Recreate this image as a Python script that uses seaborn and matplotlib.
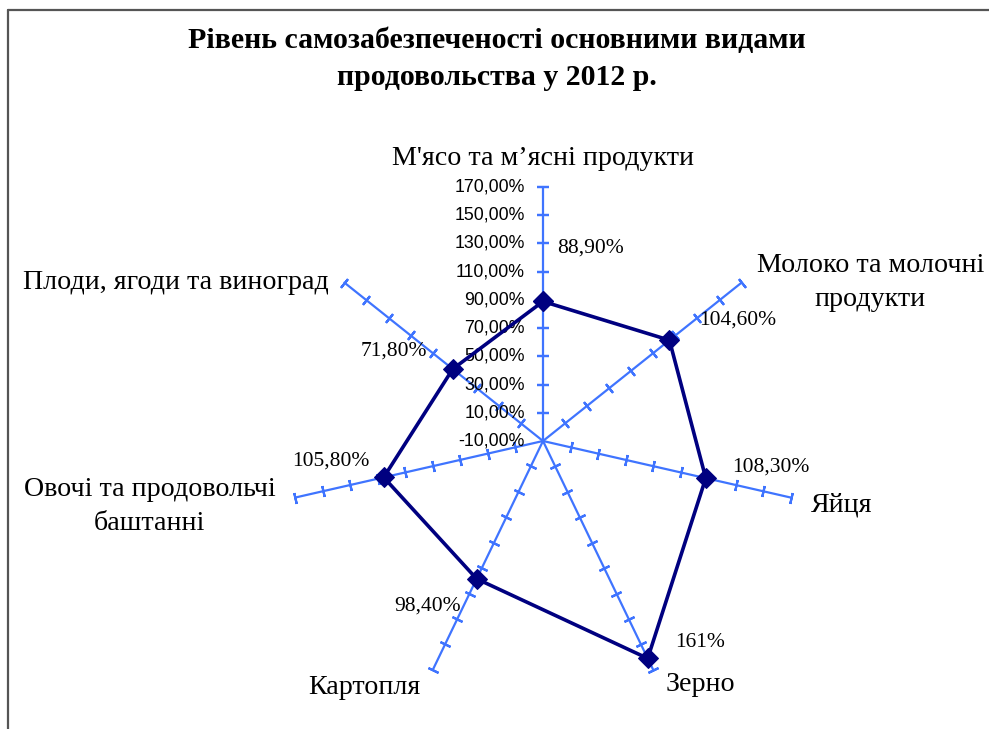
import numpy as np
import matplotlib
matplotlib.use('Agg')
import matplotlib.pyplot as plt
import seaborn as sns
from matplotlib.lines import Line2D

categories = ["М'ясо та м’ясні продукти", "Молоко та молочні\nпродукти", "Яйця", "Зерно",
              "Картопля", "Овочі та продовольчі\nбаштанні", "Плоди, ягоди та виноград"]
values = [88.9, 104.6, 108.3, 161.0, 98.4, 105.8, 71.8]
value_labels = ["88,90%", "104,60%", "108,30%", "161%", "98,40%", "105,80%", "71,80%"]
radial_ticks = [-10, 10, 30, 50, 70, 90, 110, 130, 150, 170]
radial_tick_labels = ["-10,00%", "10,00%", "30,00%", "50,00%", "70,00%", "90,00%",
                      "110,00%", "130,00%", "150,00%", "170,00%"]
title = "Рівень самозабезпеченості основними видами\nпродовольства у 2012 р."

SPOKE = '#3f74ff'
LINE = '#000080'
serif = ['Liberation Serif', 'DejaVu Serif']
sans = ['Liberation Sans', 'DejaVu Sans']

sns.set_theme(style='white')
plt.rcParams['font.family'] = serif
plt.rcParams['text.color'] = 'black'

fig = plt.figure(figsize=(9.89, 7.29), dpi=100)
W, H = 989, 729
cx, cy, R = 543, 441, 254
ax = fig.add_axes([(cx - R) / W, (H - cy - R) / H, 2 * R / W, 2 * R / H], projection='polar')
ax.set_theta_zero_location('N')
ax.set_theta_direction(-1)
ax.set_ylim(radial_ticks[0], radial_ticks[-1])
ax.set_axis_off()

n = len(categories)
angles = np.arange(n) * 2 * np.pi / n

# spokes with perpendicular tick marks
for th in angles:
    ax.plot([th, th], [radial_ticks[0], radial_ticks[-1]], color=SPOKE, lw=1.6, clip_on=False, zorder=1)
    deg = np.degrees(th)
    ax.plot([th] * (len(radial_ticks) - 1), radial_ticks[1:], ls='none',
            marker=(2, 2, 90 - deg), ms=8, mew=1.6, color=SPOKE, clip_on=False, zorder=1)

# tick labels on the top spoke
for r, lab in zip(radial_ticks, radial_tick_labels):
    ax.annotate(lab, xy=(0, r), xytext=(-18, 0), textcoords='offset pixels',
                ha='right', va='center', fontsize=12.8, family=sans, color='black')

# data polygon
th_closed = np.append(angles, 2 * np.pi)
v_closed = np.append(values, values[0])
sns.lineplot(x=th_closed, y=v_closed, ax=ax, color=LINE, lw=2.6, sort=False,
             marker='D', markersize=10, markeredgecolor=LINE, zorder=3, clip_on=False)

# data labels
label_offsets = [(47, 53), (68, 20), (65, 11), (52, 16), (-49, -27), (-53, 16), (-59, 18)]
for th, v, lab, off in zip(angles, values, value_labels, label_offsets):
    ax.annotate(lab, xy=(th, v), xytext=off, textcoords='offset pixels',
                ha='center', va='center', fontsize=15.5, color='black')

# category labels at spoke ends
cat_offsets = [(0, 29, 'center'), (15, 0, 'left'), (20, -7, 'left'), (12, -15, 'left'),
               (-12, -18, 'right'), (-20, -9, 'right'), (-16, 0, 'right')]
for th, cat, (dx, dy, ha) in zip(angles, categories, cat_offsets):
    ax.annotate(cat, xy=(th, radial_ticks[-1]), xytext=(dx, dy), textcoords='offset pixels',
                ha=ha, va='center', fontsize=20.2, color='black', multialignment='center',
                linespacing=1.5)

fig.text(497 / W, 1 - 59 / H, title, ha='center', va='center', fontsize=21.5,
         fontweight='bold', linespacing=1.5, color='black')

# document frame
fig.add_artist(Line2D([8 / W, 8 / W], [0, 1 - 10 / H], color='#555555', lw=1.6))
fig.add_artist(Line2D([8 / W, 1], [1 - 10 / H, 1 - 10 / H], color='#555555', lw=1.6))

fig.savefig('out.png', dpi=100)
